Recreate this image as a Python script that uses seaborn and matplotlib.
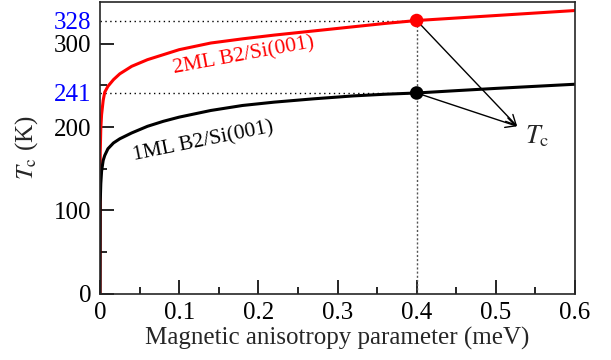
import matplotlib
matplotlib.use("Agg")
import matplotlib.pyplot as plt
import seaborn as sns
import pandas as pd

# ---- data ----
aniso = [0, 0.0003, 0.001, 0.002, 0.004, 0.006, 0.01, 0.017, 0.025, 0.04, 0.06,
         0.08, 0.1, 0.14, 0.18, 0.22, 0.27, 0.32, 0.36, 0.4, 0.45, 0.5, 0.55, 0.6]
tc_2ml = [0, 170, 198, 215, 232, 242, 249, 257, 264, 273, 281, 287, 293, 301,
          306, 310.5, 315.5, 320.5, 324.5, 328, 331, 334, 337, 340]
tc_1ml = [0, 110, 132, 147, 160, 166, 174, 181, 186, 193, 201, 207, 212, 220,
          226, 230, 234, 237.5, 239.5, 241, 243.8, 246.5, 249, 251.5]
mark_x = 0.4
mark_2ml = 328
mark_1ml = 241
label_2ml = "2ML B2/Si(001)"
label_1ml = "1ML B2/Si(001)"
yticks = [0, 100, 200, 241, 300, 328]
ytick_labels = ["0", "100", "200", "241", "300", "328"]
xticks = [0, 0.1, 0.2, 0.3, 0.4, 0.5, 0.6]
xtick_labels = ["0", "0.1", "0.2", "0.3", "0.4", "0.5", "0.6"]

df = pd.DataFrame({"K": aniso + aniso,
                   "Tc": tc_2ml + tc_1ml,
                   "film": ["2ML"] * len(aniso) + ["1ML"] * len(aniso)})
pts = pd.DataFrame({"K": [mark_x, mark_x], "Tc": [mark_2ml, mark_1ml],
                    "film": ["2ML", "1ML"]})

sns.set_style("ticks")
plt.rcParams["font.family"] = ["Liberation Serif", "DejaVu Serif"]
plt.rcParams["mathtext.fontset"] = "stix"

fig = plt.figure(figsize=(6.11, 3.60), dpi=100)
ax = fig.add_axes([100 / 611, 1 - 293.7 / 360, 475 / 611, 291.5 / 360])

pal = {"2ML": "#ff0000", "1ML": "#000000"}
sns.lineplot(data=df, x="K", y="Tc", hue="film", palette=pal, lw=2.2,
             legend=False, ax=ax, estimator=None, sort=False)

# guide lines
ax.plot([0, mark_x], [mark_2ml, mark_2ml], ls=(0, (1, 2.5)), color="black", lw=1, zorder=1)
ax.plot([0, mark_x], [mark_1ml, mark_1ml], ls=(0, (1, 2.5)), color="black", lw=1, zorder=1)
ax.plot([mark_x, mark_x], [0, mark_2ml], ls=(0, (1.5, 1.5)), color="#555555", lw=1, zorder=1)

sns.scatterplot(data=pts, x="K", y="Tc", hue="film", palette=pal, s=95,
                edgecolor="none", legend=False, ax=ax, zorder=5)

# arrows
tip = (0.527, 201)
for yv in (mark_2ml, mark_1ml):
    ax.annotate("", xy=tip, xytext=(mark_x, yv),
                arrowprops=dict(arrowstyle="->", lw=1, color="black",
                                shrinkA=0, shrinkB=0, mutation_scale=18))
ax.text(0.537, 181, r"$T_{\rm c}$", fontsize=19, ha="left", va="baseline")

ax.text(0.182, 286, label_2ml, color="#ff0000", fontsize=15.5, rotation=10.5,
        ha="center", va="center", rotation_mode="anchor")
ax.text(0.131, 183, label_1ml, color="black", fontsize=15.5, rotation=11.5,
        ha="center", va="center", rotation_mode="anchor")

ax.set_xlim(0, 0.6)
ax.set_ylim(0, 350)
ax.set_xticks(xticks)
ax.set_xticklabels(xtick_labels)
ax.set_yticks(yticks)
ax.set_yticklabels(ytick_labels)
ax.set_xticks([0.05, 0.15, 0.25, 0.35, 0.45, 0.55], minor=True)
ax.set_yticks([50, 150, 250], minor=True)
for i, t in enumerate(ax.yaxis.get_major_ticks()):
    if yticks[i] in (mark_1ml, mark_2ml):
        t.tick1line.set_visible(False)
        t.label1.set_color("#0000ff")

ax.tick_params(which="both", direction="in", width=1.2, labelsize=18, colors="black")
ax.tick_params(which="major", length=10, pad=6)
ax.tick_params(which="minor", length=5)
for t, v in zip(ax.yaxis.get_major_ticks(), yticks):
    if v in (mark_1ml, mark_2ml):
        t.label1.set_color("#0000ff")

for s in ax.spines.values():
    s.set_linewidth(1.2)
    s.set_visible(True)

ax.set_xlabel("Magnetic anisotropy parameter (meV)", fontsize=18, labelpad=2)
ax.set_ylabel(r"$T_{\rm c}$ (K)", fontsize=18, labelpad=10)

fig.savefig("out.png", dpi=100)
